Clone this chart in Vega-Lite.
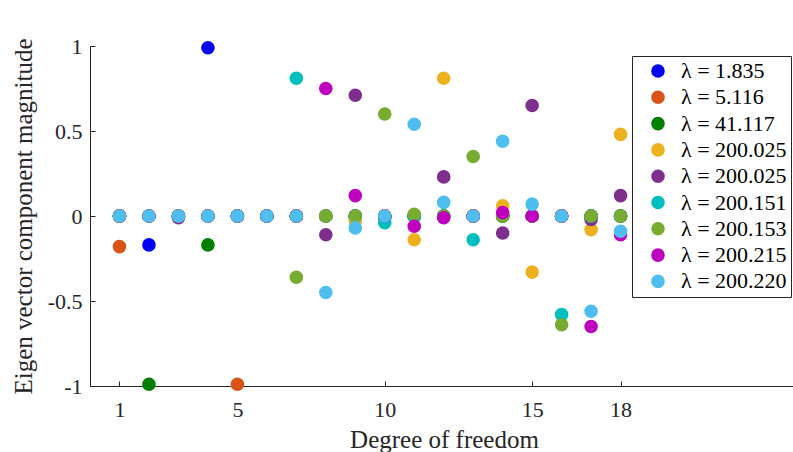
{
  "$schema": "https://vega.github.io/schema/vega-lite/v6.json",
  "width": 703,
  "height": 340,
  "autosize": {"type": "none"},
  "padding": {"left": 90, "top": 46, "right": 0, "bottom": 66},
  "background": "white",
  "data": {
    "values": [
      {"dof": 1, "a": 0, "b": -0.18, "c": 0, "d": 0, "e": 0, "f": 0, "g": 0, "h": 0, "i": 0},
      {"dof": 2, "a": -0.17, "b": 0, "c": -0.99, "d": 0, "e": 0, "f": 0, "g": 0, "h": 0, "i": 0},
      {"dof": 3, "a": 0, "b": 0, "c": 0, "d": 0, "e": -0.01, "f": 0, "g": 0, "h": 0, "i": 0},
      {"dof": 4, "a": 0.99, "b": 0, "c": -0.17, "d": 0, "e": 0, "f": 0, "g": 0, "h": 0, "i": 0},
      {"dof": 5, "a": 0, "b": -0.99, "c": 0, "d": 0, "e": 0, "f": 0, "g": 0, "h": 0, "i": 0},
      {"dof": 6, "a": 0, "b": 0, "c": 0, "d": 0, "e": 0, "f": 0, "g": 0, "h": 0, "i": 0},
      {"dof": 7, "a": 0, "b": 0, "c": 0, "d": 0, "e": 0, "f": 0.81, "g": -0.36, "h": 0, "i": 0},
      {"dof": 8, "a": 0, "b": 0, "c": 0, "d": 0, "e": -0.11, "f": 0, "g": 0, "h": 0.75, "i": -0.45},
      {"dof": 9, "a": 0, "b": 0, "c": 0, "d": -0.03, "e": 0.71, "f": 0, "g": 0, "h": 0.12, "i": -0.07},
      {"dof": 10, "a": 0, "b": 0, "c": 0, "d": 0, "e": -0.01, "f": -0.04, "g": 0.6, "h": 0, "i": 0},
      {"dof": 11, "a": 0, "b": 0, "c": 0, "d": -0.14, "e": 0, "f": 0, "g": 0.01, "h": -0.06, "i": 0.54},
      {"dof": 12, "a": 0, "b": 0, "c": 0, "d": 0.81, "e": 0.23, "f": 0, "g": 0, "h": -0.01, "i": 0.08},
      {"dof": 13, "a": 0, "b": 0, "c": 0, "d": 0, "e": 0, "f": -0.14, "g": 0.35, "h": 0, "i": 0},
      {"dof": 14, "a": 0, "b": 0, "c": 0, "d": 0.06, "e": -0.1, "f": 0, "g": 0, "h": 0.02, "i": 0.44},
      {"dof": 15, "a": 0, "b": 0, "c": 0, "d": -0.33, "e": 0.65, "f": 0, "g": 0, "h": 0, "i": 0.07},
      {"dof": 16, "a": 0, "b": 0, "c": 0, "d": 0, "e": 0, "f": -0.58, "g": -0.64, "h": 0, "i": 0},
      {"dof": 17, "a": 0, "b": 0, "c": 0, "d": -0.08, "e": -0.02, "f": 0, "g": 0, "h": -0.65, "i": -0.56},
      {"dof": 18, "a": 0, "b": 0, "c": 0, "d": 0.48, "e": 0.12, "f": 0, "g": 0, "h": -0.11, "i": -0.09}
    ]
  },
  "transform": [
    {"fold": ["a", "b", "c", "d", "e", "f", "g", "h", "i"], "as": ["series", "value"]}
  ],
  "mark": {"type": "point", "filled": true, "shape": "circle", "size": 185, "opacity": 1},
  "encoding": {
    "x": {
      "field": "dof",
      "type": "quantitative",
      "scale": {"domain": [0, 23.85], "nice": false, "zero": false},
      "axis": {
        "values": [1, 5, 10, 15, 18],
        "grid": false,
        "tickSize": -5,
        "labelPadding": 18,
        "title": "Degree of freedom",
        "titleX": 354,
        "titleY": 61,
        "titleBaseline": "alphabetic",
        "titleAlign": "center"
      }
    },
    "y": {
      "field": "value",
      "type": "quantitative",
      "scale": {"domain": [-1, 1], "nice": false},
      "axis": {
        "values": [-1, -0.5, 0, 0.5, 1],
        "labelExpr": "'' + datum.value",
        "grid": false,
        "tickSize": -5,
        "labelPadding": 13,
        "title": "Eigen vector component magnitude",
        "titleX": -59,
        "titleY": 170,
        "titleAngle": -90,
        "titleBaseline": "alphabetic",
        "titleAlign": "center"
      }
    },
    "color": {
      "field": "series",
      "type": "nominal",
      "scale": {
        "domain": ["a", "b", "c", "d", "e", "f", "g", "h", "i"],
        "range": ["#0000F5", "#D95319", "#007F00", "#EDB120", "#7E2F8E", "#00BFBF", "#77AC30", "#BF00BF", "#4DBEEE"]
      },
      "legend": {
        "orient": "none",
        "legendX": 542,
        "legendY": 10,
        "title": null,
        "fillColor": "white",
        "strokeColor": "#262626",
        "padding": 4,
        "symbolOffset": 11,
        "symbolType": "circle",
        "symbolSize": 185,
        "symbolStrokeWidth": 0,
        "labelOffset": 12,
        "rowPadding": 4.3,
        "labelFont": "Liberation Serif",
        "labelFontSize": 22,
        "labelColor": "#000000",
        "labelExpr": "['λ = 1.835','λ = 5.116','λ = 41.117','λ = 200.025','λ = 200.025','λ = 200.151','λ = 200.153','λ = 200.215','λ = 200.220'][indexof(['a','b','c','d','e','f','g','h','i'], datum.value)]"
      }
    }
  },
  "config": {
    "view": {"stroke": null},
    "axis": {
      "domainColor": "#262626",
      "tickColor": "#262626",
      "labelColor": "#262626",
      "titleColor": "#262626",
      "labelFont": "Liberation Serif",
      "labelFontSize": 22,
      "titleFont": "Liberation Serif",
      "titleFontSize": 25,
      "titleFontWeight": "normal",
      "domainWidth": 1,
      "tickWidth": 1
    }
  }
}
